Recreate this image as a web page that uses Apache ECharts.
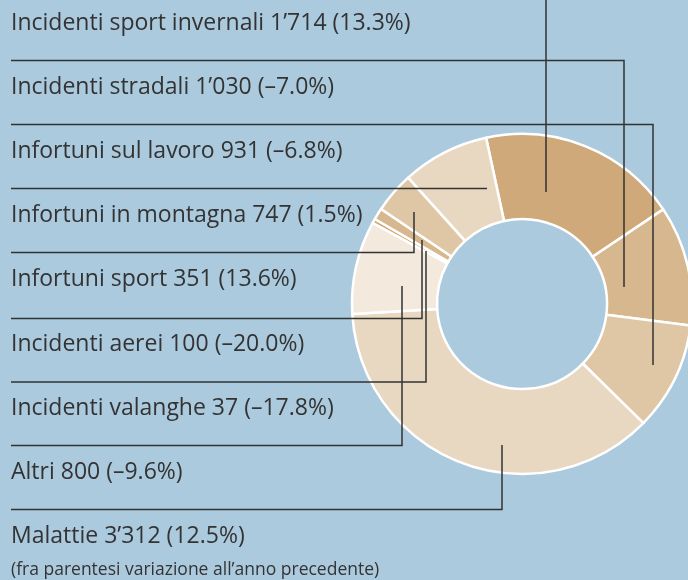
<!DOCTYPE html>
<html>
<head>
<meta charset="utf-8">
<script src="https://cdn.jsdelivr.net/npm/echarts@6/dist/echarts.min.js"></script>
<style>
  html, body { margin: 0; padding: 0; background: #abcade; }
  #chart { width: 688px; height: 580px; }
</style>
</head>
<body>
<div id="chart"></div>
<script>
// slices in clockwise order, starting with the dark one at the top
const categories = [
  'Incidenti sport invernali',
  'Incidenti stradali',
  'Infortuni sul lavoro',
  'Malattie',
  'Altri',
  'Incidenti valanghe',
  'Incidenti aerei',
  'Infortuni sport',
  'Infortuni in montagna'
]
const values = [1714, 1030, 931, 3312, 800, 37, 100, 351, 747]
const changes = [13.3, -7.0, -6.8, 12.5, -9.6, -17.8, -20.0, 13.6, 1.5]
// row of the label list on the left (0 = top)
const labelRow = [0, 1, 2, 8, 7, 6, 5, 4, 3]

const colors = ['#cfa979', '#d7b78d', '#dfc7a5', '#e8d8c1', '#f3e9dd',
  '#cfa979', '#d7b78d', '#dfc7a5', '#e8d8c1']

// layout of the label list and leader lines
const rowTextY = [23.5, 87.5, 151.5, 215.5, 279.5, 344.5, 408.5, 472.5, 536.5]
const rowLineY = [-6, 60.5, 124.5, 188.5, 252.5, 318.5, 382, 445.5, 509.5]
const leaderX = [546, 624, 653, 502, 402, 426, 422, 414, 487]
const leaderEndY = [192, 287, 365, 445, 286, 251, 240, 212, 188.5]

const FONT = '"Open Sans", "Liberation Sans", Arial, sans-serif'

const fmtValue = v => String(v).replace(/\B(?=(\d{3})+(?!\d))/g, '\u2019')
const fmtChange = c => (c < 0 ? '\u2013' : '') + Math.abs(c).toFixed(1) + '%'

const chart = echarts.init(document.getElementById('chart'))

const pieBase = {
  type: 'pie',
  center: [522, 304],
  radius: [85, 170],
  startAngle: 102.2,
  clockwise: true,
  avoidLabelOverlap: false,
  silent: true
}

const option = {
  backgroundColor: '#abcade',
  animation: false,
  textStyle: { fontFamily: FONT },
  graphic: [
    {
      type: 'text',
      left: 11,
      top: 561,
      style: {
        text: '(fra parentesi variazione all\u2019anno precedente)',
        fill: '#333',
        font: '17.5px ' + FONT
      }
    }
  ],
  series: [
    // the rings
    Object.assign({}, pieBase, {
      z: 2,
      itemStyle: { borderColor: '#ffffff', borderWidth: 2.5 },
      label: { show: false },
      labelLine: { show: false },
      data: categories.map((name, i) => ({
        name,
        value: values[i],
        itemStyle: { color: colors[i] }
      }))
    }),
    // same slices, invisible, carrying labels and leader lines on top
    Object.assign({}, pieBase, {
      z: 3,
      itemStyle: { color: 'rgba(0,0,0,0)', borderWidth: 0 },
      label: {
        show: true,
        position: 'outside',
        color: '#333',
        fontSize: 23,
        fontFamily: FONT,
        formatter: p => p.name + ' ' + fmtValue(p.value) + ' (' + fmtChange(changes[p.dataIndex]) + ')'
      },
      labelLine: {
        show: true,
        smooth: false,
        lineStyle: { color: '#333', width: 1.5 }
      },
      labelLayout: params => {
        const i = params.dataIndex
        const row = labelRow[i]
        const ly = rowLineY[row]
        return {
          x: 11,
          y: rowTextY[row],
          align: 'left',
          verticalAlign: 'middle',
          labelLinePoints: [
            [leaderX[i], leaderEndY[i]],
            [leaderX[i], ly],
            [11, ly]
          ]
        }
      },
      data: categories.map((name, i) => ({ name, value: values[i] }))
    })
  ]
}

chart.setOption(option)
</script>
</body>
</html>
